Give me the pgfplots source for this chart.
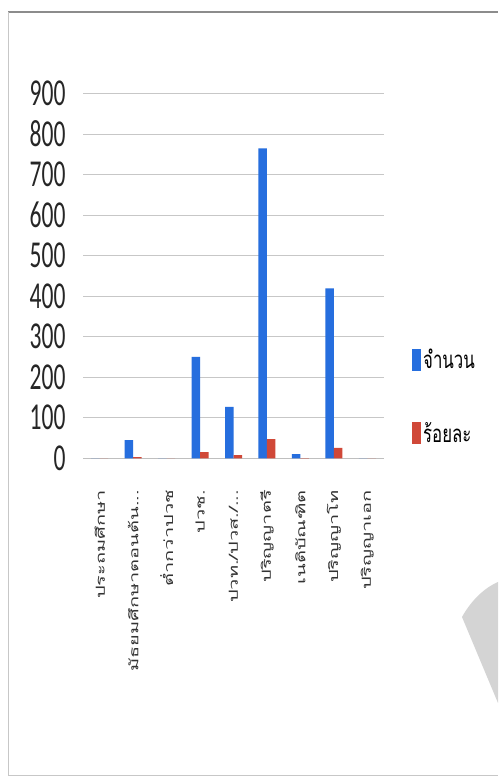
\documentclass[border=0pt]{standalone}
\usepackage{pgfplots}
\pgfplotsset{compat=1.18}
\usepackage{fontspec}
\newfontfamily\numfont[FakeStretch=0.62]{Carlito}
\newfontfamily\thaitick[Script=Thai,FakeStretch=1.6]{Loma}
\newfontfamily\thaileg[Script=Thai,FakeStretch=0.7]{Loma}
\definecolor{barblue}{RGB}{38,110,222}
\definecolor{barred}{RGB}{208,72,56}
% truncated label marker
\newcommand{\cut}{.{}.{}.}

\begin{document}
\begin{tikzpicture}[x=1pt,y=1pt]
\path[use as bounding box] (0,0) rectangle (498,779);
\fill[white] (0,0) rectangle (498,779);
% page frame
\draw[black!45, line width=1.3pt] (8,767) -- (498,767);
\draw[black!22, line width=0.8pt] (8,767) -- (8,4) -- (498,4);
\fill[black!17] (462,162) .. controls (472,180) and (486,192) .. (498,197) -- (498,76) -- cycle;

\begin{axis}[
  at={(83pt,320.7pt)}, anchor=south west,
  scale only axis, width=301pt, height=365pt,
  xmin=-0.5, xmax=8.5, ymin=0, ymax=900,
  ytick={0,100,200,300,400,500,600,700,800,900},
  /pgf/number format/assume math mode=true,
  ymajorgrids, grid style={black!22, line width=0.7pt},
  axis x line*=bottom, axis y line*=left,
  y axis line style={draw=none},
  x axis line style={black!25, line width=0.7pt},
  ytick style={draw=none},
  yticklabel style={font=\numfont\fontsize{38}{39}\selectfont, text=black!85, xshift=-14pt},
  xtick={0,1,2,3,4,5,6,7,8},
  xtick style={draw=none},
  xticklabels={ประถมศึกษา, มัธยมศึกษาตอนต้น\cut, ต่ำกว่าปวช, ปวช., ปวท./ปวส./\cut, ปริญญาตรี, เนติบัณฑิต, ปริญญาโท, ปริญญาเอก},
  xticklabel style={yshift=-24pt, rotate=90, anchor=east, font=\thaitick\fontsize{12.5}{12.5}\selectfont, text=black!80},
  extra x ticks={-0.5,0.5,1.5,2.5,3.5,4.5,5.5,6.5,7.5,8.5},
  extra x tick labels={},
  extra x tick style={grid=none, tick align=outside, major tick length=6pt, tick style={draw=black!25, line width=0.7pt}},
  ybar=0pt, bar width=8.5pt,
  legend style={at={(1.093,0.305)}, anchor=north west, draw=none, fill=none,
    font=\thaileg\fontsize{24}{26}\selectfont, row sep=48pt, inner sep=0pt},
  legend cell align=left,
  legend image code/.code={\fill[#1] (0pt,-11pt) rectangle (9pt,11pt);},
]
\addplot[fill=barblue, draw=none] coordinates {(0,0) (1,45) (2,0) (3,250) (4,127) (5,764) (6,10) (7,419) (8,0)};
\addplot[fill=barred, draw=none] coordinates {(0,0) (1,2.8) (2,0) (3,15.5) (4,7.9) (5,47.3) (6,0.6) (7,25.9) (8,0)};
\legend{จำนวน, ร้อยละ}
\end{axis}
\end{tikzpicture}
\end{document}
